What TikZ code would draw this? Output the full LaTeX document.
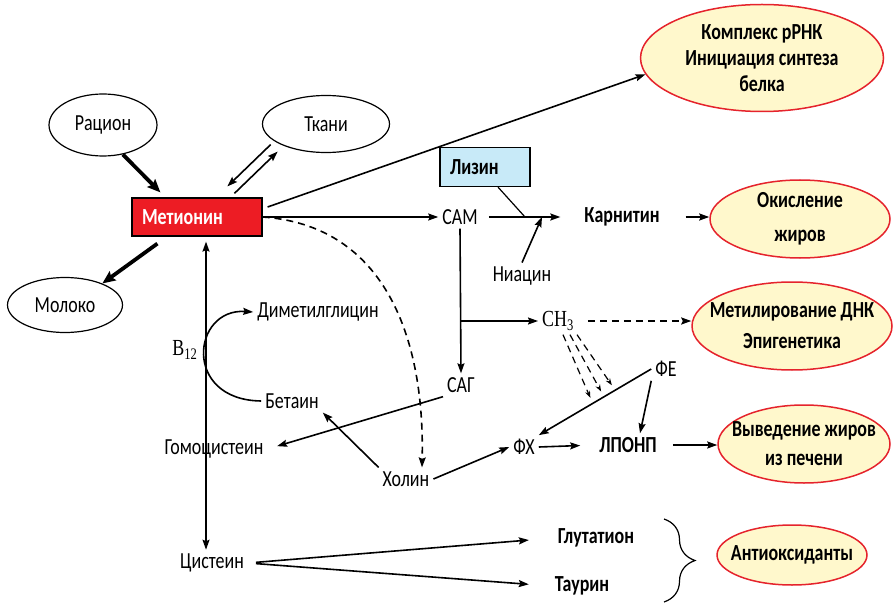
\documentclass[tikz,border=0pt]{standalone}
\usepackage{fontspec}
\setmainfont{Carlito}[FakeStretch=0.78]
\newfontfamily\tms{Liberation Serif}[FakeStretch=0.78]
\usetikzlibrary{arrows.meta,shapes.geometric,decorations.pathreplacing,calc}
\definecolor{metred}{HTML}{ED1C24}
\definecolor{lysblue}{HTML}{C8EAF8}
\definecolor{ovfill}{HTML}{FFF8CC}
\definecolor{ovline}{HTML}{E5232C}

\begin{document}
\begin{tikzpicture}[x=1pt,y=-1pt,line width=1.6pt,
  font=\fontsize{23}{27}\selectfont,
  >={Stealth[length=10pt,width=7pt,inset=1.5pt]},
  bld/.style={font=\fontsize{23}{27}\selectfont\bfseries},
  src/.style={draw,ellipse,line width=1.2pt},
  res/.style={draw=ovline,fill=ovfill,ellipse,line width=1.5pt,inner xsep=-40pt,inner ysep=-12pt,
    font=\fontsize{23}{26}\selectfont\bfseries,align=center},
  fat/.style={line width=3.8pt,-{Stealth[length=13pt,width=11pt,inset=2pt]}},
  dsh/.style={dash pattern=on 7pt off 5pt}]
  \useasboundingbox (0,0) rectangle (894,604);

  % Sources
  \node[src,minimum width=108pt,minimum height=62pt] (ration) at (103,125) {Рацион};
  \node[src,minimum width=127pt,minimum height=57pt] (tkani) at (326,124) {Ткани};
  \node[src,minimum width=115pt,minimum height=55pt] (moloko) at (65,305) {Молоко};
  \node[draw,fill=metred,text=white,bld,line width=1.2pt,minimum height=38pt,text width=110pt,inner xsep=10pt] (met) at (197,217) {Метионин};
  \node[draw,fill=lysblue,bld,line width=1.2pt,minimum height=39pt,text width=70pt,inner xsep=10pt] (lys) at (485,167) {Лизин};

  % Results
  \node[res,minimum width=243pt,minimum height=107pt] (cplx) at (762,58) {Комплекс рРНК\\Инициация синтеза\\белка};
  \node[res,minimum width=180pt,minimum height=78pt] (oxid) at (800,219) {Окисление\\[8pt]жиров};
  \node[res,minimum width=200pt,minimum height=88pt] (methyl) at (792,326) {Метилирование ДНК\\[5pt]Эпигенетика};
  \node[res,minimum width=172pt,minimum height=78pt] (vyved) at (804,444) {Выведение жиров\\[3pt]из печени};
  \node[res,minimum width=150pt,minimum height=60pt] (antiox) at (792,555) {Антиоксиданты};

  % Intermediates
  \node (sam) at (460,217) {САМ};
  \node (sag) at (461,385) {САГ};
  \node[font=\tms\fontsize{23}{27}\selectfont] (ch3) at (558,321) {CH\textsubscript{3}};
  \node[bld] (karn) at (622,217) {Карнитин};
  \node (niacin) at (522,276) {Ниацин};
  \node (dmg) at (318,312) {Диметилглицин};
  \node (betain) at (292,401) {Бетаин};
  \node[font=\tms\fontsize{23}{27}\selectfont] (b12) at (185,350) {B\textsubscript{12}};
  \node (hcys) at (214,449) {Гомоцистеин};
  \node (cholin) at (406,479) {Холин};
  \node (fe) at (666,369) {ФЕ};
  \node (fx) at (524,447) {ФХ};
  \node[bld] (lponp) at (628,445) {ЛПОНП};
  \node (cys) at (212,563) {Цистеин};
  \node[bld] (glut) at (596,538) {Глутатион};
  \node[bld] (taurin) at (582,586) {Таурин};

  \coordinate (lk) at (525,217);
  \coordinate (nk) at (542,217);
  \coordinate (hc) at (206,449);
  \coordinate (sb) at (sam.south |- ch3.west);
  \coordinate (bt) at (664,519);
  \coordinate (bb) at (664,602);

  \draw[fat] (ration.-56) -- ([xshift=29pt,yshift=5pt]met.north west);
  \draw[fat] ([xshift=26pt,yshift=-7pt]met.south west) -- (moloko.30);
  \draw[->] ([xshift=-10pt]tkani.south west) -- ([xshift=96pt,yshift=11pt]met.north west);
  \draw[->] ([xshift=103pt,yshift=4pt]met.north west) -- ([xshift=-3pt,yshift=-7pt]tkani.south west);
  \draw[->] ([xshift=5pt,yshift=10pt]met.east) -- (cplx.188);
  \draw[->] (met.east) -- (sam.west);
  \draw[->,dsh] (met.east) .. controls (380,225) and (425,330) .. ([xshift=16pt]cholin.north);
  \draw[->,shorten >=5pt] (hc) -- (hc |- met.south);
  \draw[->] (hc) -- (hc |- cys.north);

  % Carnitine
  \draw[->,shorten <=7pt,shorten >=20pt] (sam.east) -- (karn.west);
  \draw[line width=1.2pt] ([xshift=13pt]lys.south) -- (lk);
  \draw[->] (niacin.north) -- (nk);
  \draw[->,shorten <=22pt] (karn.east) -- (karn.east -| oxid.west);

  % Methyl groups
  \draw[->] (sam.south) -- (sag.north);
  \draw[->] (sb) -- (ch3.west);
  \draw[->,dsh,shorten <=10pt] (ch3.east) -- (ch3.east -| methyl.west);
  \foreach \dx/\t in {5/0.52,12/0.42,19/0.32}
    \draw[-{Stealth[length=7pt,width=5pt]},dsh,line width=1.2pt,shorten >=6pt] ([xshift=\dx pt]ch3.south) -- ($(fe.west)!\t!(fx.north east)$);
  \draw[->] (fe.west) -- (fx.north east);
  \draw[->] (fe.south west) -- ([xshift=12pt]lponp.north);
  \draw[->] (cholin.east) -- (fx.west);
  \draw[->,shorten >=15pt] (fx.east) -- (lponp.west);
  \draw[->,shorten <=12pt] (lponp.east) -- (lponp.east -| vyved.west);

  % Homocysteine cycle
  \draw[->,shorten >=10pt] (sag.south west) -- (hcys.east);
  \draw[->] (cholin.north west) -- (betain.south east);
  \draw[->] (betain.west) .. controls (182,400) and (192,308) .. (dmg.west);

  % Antioxidants
  \draw[->,shorten <=8pt,shorten >=25pt] (cys.east) -- (glut.west);
  \draw[->,shorten <=8pt,shorten >=22pt] (cys.east) -- (taurin.west);
  \draw[line width=1.2pt,decorate,decoration={brace,amplitude=31pt}] (bt) -- (bb);

\end{tikzpicture}
\end{document}
